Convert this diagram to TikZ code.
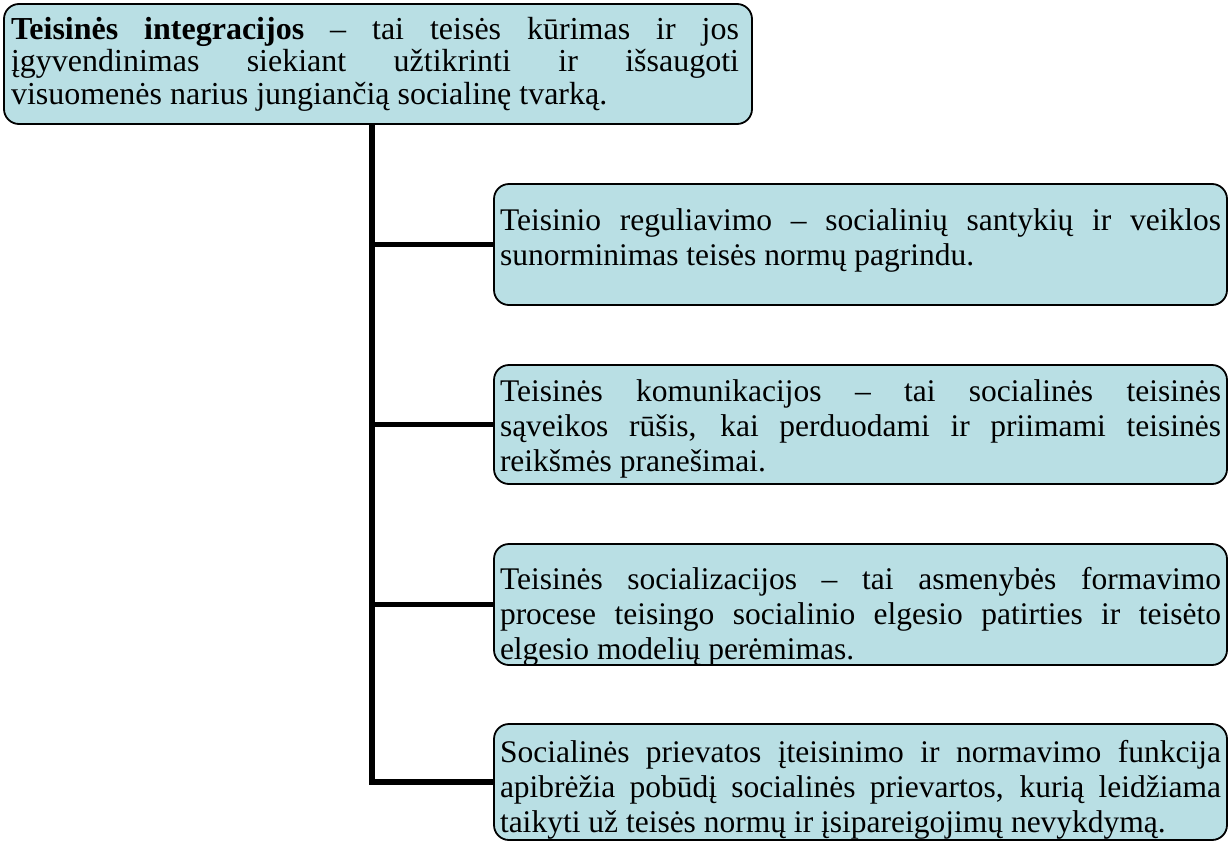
\documentclass[tikz,border=0pt]{standalone}
\usepackage{fontspec}
\setmainfont{Liberation Serif}
\definecolor{boxfill}{RGB}{185,223,228}
\newcommand\jline[2]{\hbox to #1{\spaceskip=0.25em plus 1fil\relax #2}}
\newcommand\lline[1]{\hbox{#1}}
\begin{document}
\begin{tikzpicture}[x=1pt,y=-1pt,
  box/.style={draw=black, line width=1.8pt, fill=boxfill, rounded corners=15pt,
    inner sep=0pt, outer sep=0pt, anchor=north west},
  txt/.style={anchor=north west, inner sep=0pt, outer sep=0pt,
    font=\fontsize{31.5}{35}\selectfont},
  toptxt/.style={anchor=north west, inner sep=0pt, outer sep=0pt,
    font=\fontsize{32}{32.5}\selectfont},
  spine/.style={line width=6pt, draw=black, line join=miter},
  branch/.style={line width=5pt, draw=black}]
\useasboundingbox (0,0) rectangle (1228,841);

% boxes
\node[box, minimum width=748pt, minimum height=120pt] (top) at (4,4) {};
\node[box, minimum width=733pt, minimum height=121pt] (b2) at (494,184) {};
\node[box, minimum width=733pt, minimum height=119pt] (b3) at (494,365) {};
\node[box, minimum width=733pt, minimum height=121pt] (b4) at (494,544) {};
\node[box, minimum width=733pt, minimum height=116pt] (b5) at (494,724) {};

% texts
\node[toptxt] (t1) at (11,16.5) {\vbox{%
\jline{728pt}{\strut\textbf{Teisinės integracijos} – tai teisės kūrimas ir jos}
\jline{728pt}{įgyvendinimas siekiant užtikrinti ir išsaugoti}
\lline{visuomenės narius jungiančią socialinę tvarką.}}};

\node[txt] (t2) at (500,205.5) {\vbox{%
\jline{721pt}{\strut Teisinio reguliavimo – socialinių santykių ir veiklos}
\lline{sunorminimas teisės normų pagrindu.}}};

\node[txt] (t3) at (500,377) {\vbox{%
\jline{721pt}{\strut Teisinės komunikacijos – tai socialinės teisinės}
\jline{721pt}{sąveikos rūšis, kai perduodami ir priimami teisinės}
\lline{reikšmės pranešimai.}}};

\node[txt] (t4) at (500,564.5) {\vbox{%
\jline{721pt}{\strut Teisinės socializacijos – tai asmenybės formavimo}
\jline{721pt}{procese teisingo socialinio elgesio patirties ir teisėto}
\lline{elgesio modelių perėmimas.}}};

\node[txt] (t5) at (500,737.5) {\vbox{%
\jline{721pt}{\strut Socialinės prievatos įteisinimo ir normavimo funkcija}
\jline{721pt}{apibrėžia pobūdį socialinės prievartos, kurią leidžiama}
\lline{taikyti už teisės normų ir įsipareigojimų nevykdymą.}}};

% connectors
\coordinate (sp) at (372,0);
\draw[spine] (top.south -| sp) -- (b5.west -| sp) -- (b5.west);
\draw[branch] (b2.west -| sp) -- (b2.west);
\draw[branch] (b3.west -| sp) -- (b3.west);
\draw[branch] (b4.west -| sp) -- (b4.west);
\end{tikzpicture}
\end{document}
